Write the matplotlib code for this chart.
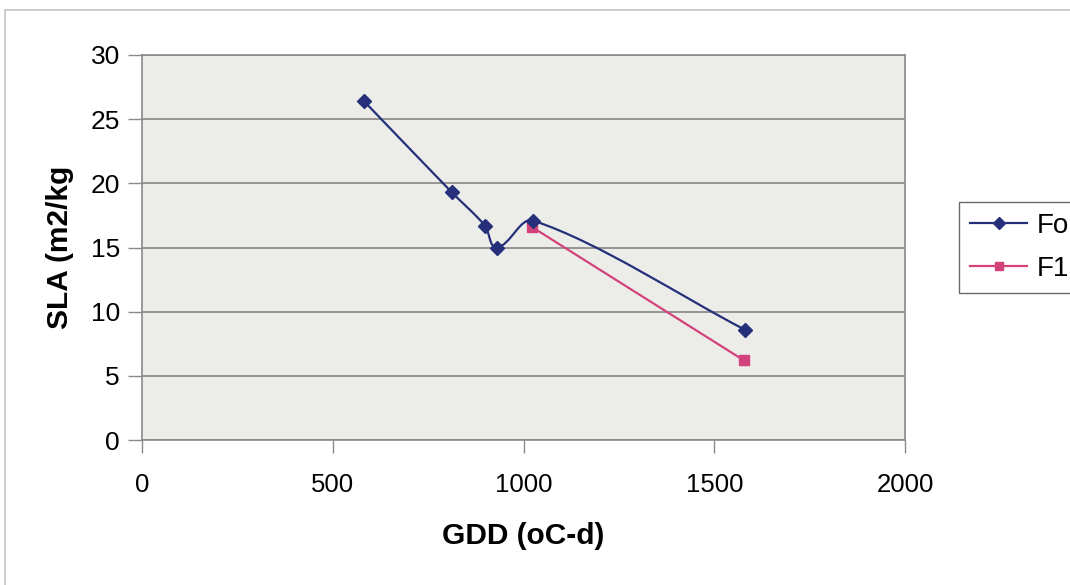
import numpy as np
import matplotlib
matplotlib.use("Agg")
import matplotlib.pyplot as plt
from matplotlib.path import Path
from matplotlib.patches import PathPatch, Rectangle
from matplotlib.lines import Line2D

# values
fo_gdd = [582, 812, 899, 930, 1025, 1580]
fo_sla = [26.4, 19.3, 16.7, 15.0, 17.1, 8.6]
f1_gdd = [1022, 1578]
f1_sla = [16.6, 6.2]
series_names = ["Fo", "F1"]
x_ticks = [0, 500, 1000, 1500, 2000]
y_ticks = [0, 5, 10, 15, 20, 25, 30]

fo_color = "#26307a"
f1_color = "#d4427c"

plt.rcParams["font.family"] = ["Liberation Sans", "DejaVu Sans"]


def smooth_path(ax, xs, ys, k=0.3):
    # excel-like smoothed line: bezier segments built in display space
    pts = ax.transData.transform(np.column_stack([xs, ys]))
    n = len(pts)
    tang = []
    for i in range(n):
        a = pts[max(i - 1, 0)]
        b = pts[min(i + 1, n - 1)]
        d = b - a
        tang.append(d / np.hypot(*d))
    verts, codes = [pts[0]], [Path.MOVETO]
    for i in range(n - 1):
        L = np.hypot(*(pts[i + 1] - pts[i]))
        verts += [pts[i] + tang[i] * L * k, pts[i + 1] - tang[i + 1] * L * k, pts[i + 1]]
        codes += [Path.CURVE4] * 3
    verts = ax.transData.inverted().transform(np.array(verts))
    return Path(verts, codes)


fig = plt.figure(figsize=(10.7, 5.85), dpi=100)
fig.patch.set_facecolor("white")
fig.patches.append(Rectangle((5 / 1070, -0.05), 1.2, 1.05 - 10 / 585, transform=fig.transFigure,
                             fill=False, edgecolor="#c4c4c4", linewidth=1.2))

ax = fig.add_axes([142 / 1070, 1 - 440 / 585, 763 / 1070, 385 / 585])
ax.set_facecolor("#ecece9")
ax.set_xlim(0, 2000)
ax.set_ylim(0, 30)
ax.set_xticks(x_ticks)
ax.set_yticks(y_ticks)
ax.grid(axis="y", color="#7d7d7d", linewidth=1.1)
ax.set_axisbelow(True)
for s in ax.spines.values():
    s.set_color("#8a8a8a")
    s.set_linewidth(1.2)
ax.tick_params(axis="x", length=9, width=1, color="#8a8a8a", pad=15, labelsize=18.5)
ax.tick_params(axis="y", length=10, width=1, color="#8a8a8a", pad=6, labelsize=19)

ax.add_patch(PathPatch(smooth_path(ax, fo_gdd, fo_sla), facecolor="none", edgecolor=fo_color, linewidth=1.6, zorder=3))
ax.plot(fo_gdd, fo_sla, linestyle="none", marker="D", markersize=7.5, color=fo_color, zorder=4)
ax.plot(f1_gdd, f1_sla, color=f1_color, linewidth=1.6, marker="s", markersize=7.5, zorder=3)

ax.set_xlabel("GDD (oC-d)", fontsize=21.5, fontweight="bold", labelpad=18)
ax.set_ylabel("SLA (m2/kg", fontsize=21.5, fontweight="bold", labelpad=12)

handles = [Line2D([], [], color=fo_color, linewidth=1.6, marker="D", markersize=6),
           Line2D([], [], color=f1_color, linewidth=1.6, marker="s", markersize=6)]
leg = fig.legend(handles, series_names, loc="upper left", bbox_to_anchor=(959 / 1070, 1 - 202 / 585),
                 bbox_transform=fig.transFigure, borderaxespad=0, fontsize=20, frameon=True,
                 fancybox=False, edgecolor="#444444", handlelength=2.05, labelspacing=0.6,
                 borderpad=0.4, handletextpad=0.36)
leg.get_frame().set_linewidth(1.0)

fig.savefig("out.png", dpi=100)
